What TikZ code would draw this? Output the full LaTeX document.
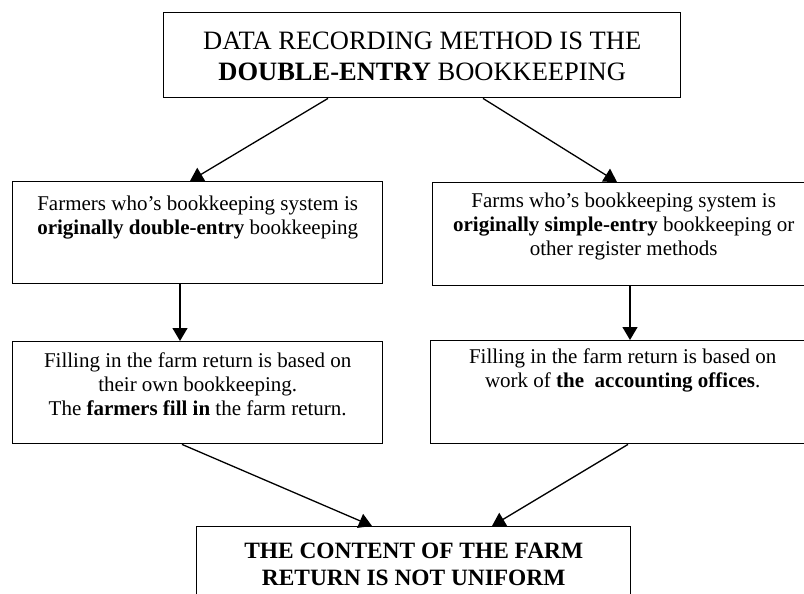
\documentclass[tikz,border=0pt]{standalone}
\usepackage{fontspec}
\setmainfont{Liberation Serif}
\usetikzlibrary{arrows.meta,calc}
\begin{document}
\begin{tikzpicture}[x=1pt,y=-1pt,
  box/.style={draw,line width=1.4pt,inner sep=0pt,anchor=north west},
  txt/.style={anchor=north,align=center,inner sep=0pt,font=\fontsize{21}{24}\selectfont},
  arr/.style={line width=1.3pt,-{Triangle[width=15pt,length=13pt]}}]
\useasboundingbox (0,0) rectangle (804,594);
\begin{scope}
\clip (0,0) rectangle (804,594);
% boxes
\node[box,minimum width=517pt,minimum height=85pt] (top) at (163,12) {};
\node[box,minimum width=370pt,minimum height=102pt] (tl1) at (12,181) {};
\node[box,minimum width=382pt,minimum height=103pt] (tr1) at (432,182) {};
\node[box,minimum width=370pt,minimum height=102pt] (tl2) at (12,341) {};
\node[box,minimum width=384pt,minimum height=103pt] (tr2) at (430,340) {};
\node[box,minimum width=434pt,minimum height=80pt] (bot) at (196,526) {};
% texts
\node[txt,font=\fontsize{26.5}{31}\selectfont] (ttop) at ($(top.north)+(0,20)$)
  {DATA RECORDING METHOD IS THE\\\textbf{DOUBLE-ENTRY} BOOKKEEPING};
\node[txt] (ttl1) at ($(tl1.north)+(0,15)$)
  {Farmers who’s bookkeeping system is\\\textbf{originally double-entry} bookkeeping};
\node[txt] (ttr1) at ($(tr1.north)+(0,11)$)
  {Farms who’s bookkeeping system is\\\textbf{originally simple-entry} bookkeeping or\\other register methods};
\node[txt] (ttl2) at ($(tl2.north)+(0,12)$)
  {Filling in the farm return is based on\\their own bookkeeping.\\The \textbf{farmers fill in} the farm return.};
\node[txt] (ttr2) at ($(tr2.north)+(0,9)$)
  {Filling in the farm return is based on\\work of \textbf{the\ \ accounting offices}.};
\node[txt,font=\bfseries\fontsize{23.4}{27}\selectfont] (tbot) at ($(bot.north)+(0,16.5)$)
  {THE CONTENT OF THE FARM\\RETURN IS NOT UNIFORM};
% connectors
\draw[arr] ($(top.south west)+(165,0)$) -- ($(tl1.north west)+(178,0)$);
\draw[arr] ($(top.south west)+(320,0)$) -- ($(tr1.north west)+(185,0)$);
\draw[arr] ($(tl1.south west)+(168,0)$) -- ($(tl2.north west)+(168,0)$);
\draw[arr] ($(tr1.south west)+(198,0)$) -- ($(tr2.north west)+(200,0)$);
\draw[arr] ($(tl2.south west)+(170,0)$) -- ($(bot.north west)+(176,0)$);
\draw[arr] ($(tr2.south west)+(198,0)$) -- ($(bot.north west)+(296,0)$);
\end{scope}
\end{tikzpicture}
\end{document}
